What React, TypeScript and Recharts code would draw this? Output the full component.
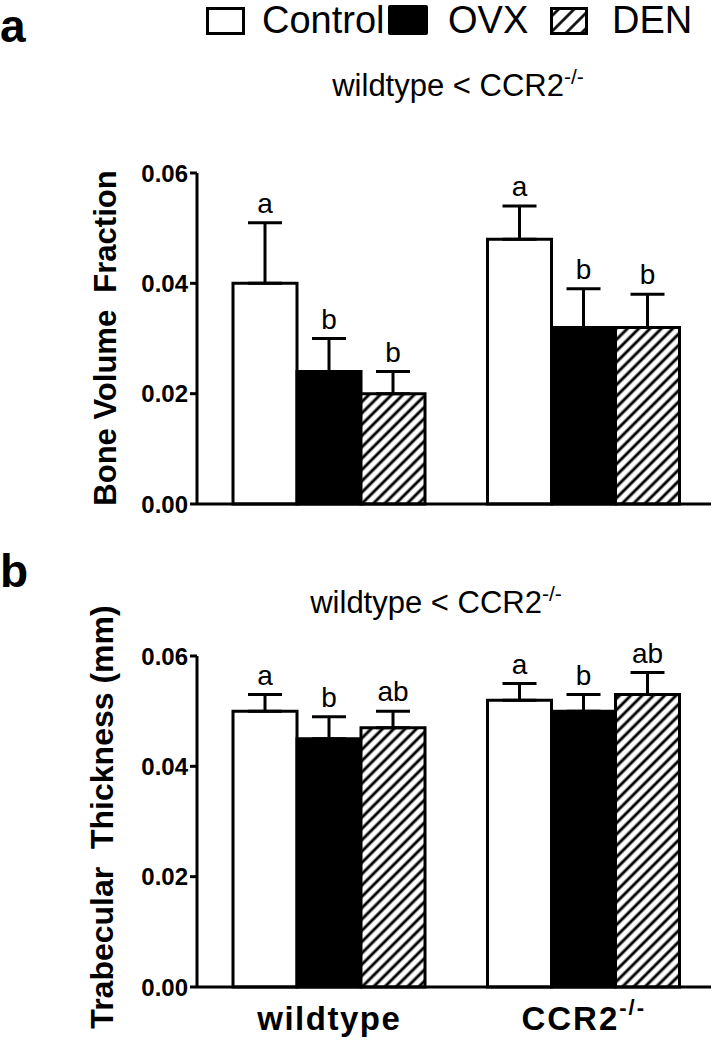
import React from "react";
import { BarChart, Bar, XAxis, YAxis, ErrorBar } from "recharts";

const groups = ["wildtype", "CCR2-/-"];
const yTicks = [0, 0.02, 0.04, 0.06];

// panel a: bone volume fraction
const bvControl = [0.04, 0.048];
const bvControlErr = [0.011, 0.006];
const bvOvx = [0.024, 0.032];
const bvOvxErr = [0.006, 0.007];
const bvDen = [0.02, 0.032];
const bvDenErr = [0.004, 0.006];
const bvControlSig = ["a", "a"];
const bvOvxSig = ["b", "b"];
const bvDenSig = ["b", "b"];

// panel b: trabecular thickness (mm)
const tbControl = [0.05, 0.052];
const tbControlErr = [0.003, 0.003];
const tbOvx = [0.045, 0.05];
const tbOvxErr = [0.004, 0.003];
const tbDen = [0.047, 0.053];
const tbDenErr = [0.003, 0.004];
const tbControlSig = ["a", "a"];
const tbOvxSig = ["b", "b"];
const tbDenSig = ["ab", "ab"];

const FONT = "'Liberation Sans', Arial, Helvetica, sans-serif";

function buildRows(c: number[], ce: number[], o: number[], oe: number[], d: number[], de: number[]) {
  return groups.map((g, i) => ({
    group: g,
    control: c[i],
    controlErr: [0, ce[i]],
    ovx: o[i],
    ovxErr: [0, oe[i]],
    den: d[i],
    denErr: [0, de[i]],
  }));
}

const bvRows = buildRows(bvControl, bvControlErr, bvOvx, bvOvxErr, bvDen, bvDenErr);
const tbRows = buildRows(tbControl, tbControlErr, tbOvx, tbOvxErr, tbDen, tbDenErr);

// letter sits above the top of the error whisker
function sigLabel(errs: number[], sig: string[]) {
  return (p: any) => {
    const { x, y, width, height, value, index } = p;
    if (!value) return null;
    const top = y - (errs[index] * height) / value;
    return (
      <text key={`s${index}`} x={x + width / 2} y={top - 10} textAnchor="middle"
        fontSize={28} fontFamily={FONT} fill="#000">
        {sig[index]}
      </text>
    );
  };
}

function GroupTick({ x, y, payload }: any) {
  const v = payload.value as string;
  const style = { fontFamily: FONT, fontWeight: 700 as const, fill: "#000" };
  if (v.endsWith("-/-")) {
    return (
      <text x={x} y={y + 35} textAnchor="middle" fontSize={33} letterSpacing={2} style={style}>
        {v.replace("-/-", "")}
        <tspan dy={-15} fontSize={22}>-/-</tspan>
      </text>
    );
  }
  return (
    <text x={x} y={y + 35} textAnchor="middle" fontSize={33} letterSpacing={1.5} style={style}>
      {v}
    </text>
  );
}

const axisStroke = { stroke: "#000", strokeWidth: 3 };
const yTickStyle = { fontSize: 24, fontWeight: 700, fill: "#000", fontFamily: FONT };

function Panel({ rows, id, sigs, errs, showX, height, margin, xHeight }: any) {
  return (
    <BarChart width={715} height={height} data={rows} margin={margin}
      barGap={0} barSize={64}>
      <defs>
        <pattern id={id} width="8" height="8" patternUnits="userSpaceOnUse" patternTransform="rotate(45)">
          <rect width="8" height="8" fill="#fff" />
          <line x1="4" y1="0" x2="4" y2="8" stroke="#000" strokeWidth="2.9" />
        </pattern>
      </defs>
      <XAxis dataKey="group" axisLine={axisStroke} tickLine={false} height={xHeight}
        padding={{ left: 5, right: 0 }} tick={showX ? <GroupTick /> : false} interval={0} />
      <YAxis domain={[0, 0.06]} ticks={yTicks} width={80} tickSize={7} tickMargin={2}
        axisLine={axisStroke} tickLine={axisStroke} tick={yTickStyle}
        tickFormatter={(v: number) => v.toFixed(2)} interval={0} />
      <Bar dataKey="control" fill="#fff" stroke="#000" strokeWidth={3} isAnimationActive={false}
        label={sigLabel(errs[0], sigs[0])}>
        <ErrorBar dataKey="controlErr" width={17} stroke="#000" strokeWidth={3} direction="y" />
      </Bar>
      <Bar dataKey="ovx" fill="#000" stroke="#000" strokeWidth={3} isAnimationActive={false}
        label={sigLabel(errs[1], sigs[1])}>
        <ErrorBar dataKey="ovxErr" width={17} stroke="#000" strokeWidth={3} direction="y" />
      </Bar>
      <Bar dataKey="den" fill={`url(#${id})`} stroke="#000" strokeWidth={3} isAnimationActive={false}
        label={sigLabel(errs[2], sigs[2])}>
        <ErrorBar dataKey="denErr" width={17} stroke="#000" strokeWidth={3} direction="y" />
      </Bar>
    </BarChart>
  );
}

function Overlay() {
  const txt = { fontFamily: FONT, fill: "#000" };
  return (
    <svg width={715} height={1050} style={{ position: "absolute", left: 0, top: 0, pointerEvents: "none" }}>
      <defs>
        <pattern id="hatchLegend" width="11" height="11" patternUnits="userSpaceOnUse" patternTransform="rotate(45)">
          <rect width="11" height="11" fill="#fff" />
          <line x1="5.5" y1="0" x2="5.5" y2="11" stroke="#000" strokeWidth="2.6" />
        </pattern>
      </defs>
      <text x={0} y={42} fontSize={46} fontWeight={700} style={txt}>a</text>
      <text x={0} y={587} fontSize={46} fontWeight={700} style={txt}>b</text>

      <rect x={207.5} y={8.5} width={36} height={25} fill="#fff" stroke="#000" strokeWidth={3} />
      <text x={262} y={33} fontSize={38} style={txt}>Control</text>
      <rect x={388} y={5} width={40} height={30} rx={2} fill="#000" />
      <text x={448} y={33} fontSize={38} style={txt}>OVX</text>
      <rect x={551.5} y={8.5} width={35} height={25} fill="url(#hatchLegend)" stroke="#000" strokeWidth={3} />
      <text x={612} y={33} fontSize={38} style={txt}>DEN</text>

      <text x={458} y={96} fontSize={31} textAnchor="middle" style={txt}>
        {"wildtype < CCR2"}
        <tspan dy={-12} fontSize={21}>-/-</tspan>
      </text>
      <text x={436} y={613} fontSize={31} textAnchor="middle" style={txt}>
        {"wildtype < CCR2"}
        <tspan dy={-12} fontSize={21}>-/-</tspan>
      </text>

      <text x={116} y={338} transform="rotate(-90 116 338)" textAnchor="middle" fontSize={31}
        fontWeight={700} style={{ ...txt, whiteSpace: "pre" }}>
        {"Bone Volume  Fraction"}
      </text>
      <text x={113} y={817} transform="rotate(-90 113 817)" textAnchor="middle" fontSize={32}
        fontWeight={700} style={{ ...txt, whiteSpace: "pre" }}>
        {"Trabecular  Thickness (mm)"}
      </text>
    </svg>
  );
}

export default function App() {
  return (
    <div style={{ position: "absolute", left: 0, top: 0, width: 715, height: 1050, background: "#fff" }}>
      <div style={{ position: "absolute", left: 0, top: 0 }}>
        <Panel rows={bvRows} id="hatchA" height={540} showX={false} xHeight={30}
          margin={{ top: 173, right: 4, bottom: 6, left: 117 }}
          sigs={[bvControlSig, bvOvxSig, bvDenSig]} errs={[bvControlErr, bvOvxErr, bvDenErr]} />
      </div>
      <div style={{ position: "absolute", left: 0, top: 540 }}>
        <Panel rows={tbRows} id="hatchB" height={510} showX={true} xHeight={50}
          margin={{ top: 116, right: 4, bottom: 13, left: 117 }}
          sigs={[tbControlSig, tbOvxSig, tbDenSig]} errs={[tbControlErr, tbOvxErr, tbDenErr]} />
      </div>
      <Overlay />
    </div>
  );
}
